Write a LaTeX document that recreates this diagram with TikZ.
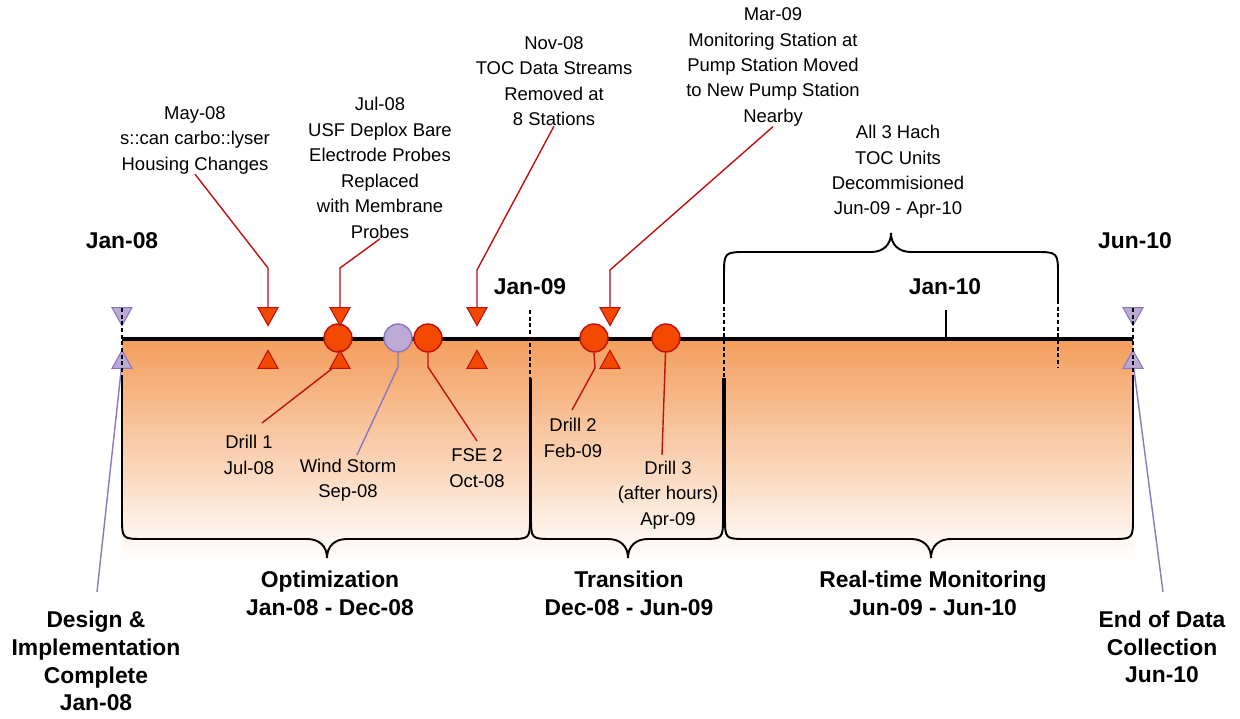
\documentclass[tikz,border=0pt]{standalone}
\usepackage{fontspec}
\setmainfont{Liberation Sans}
\usetikzlibrary{shapes.geometric}

\definecolor{evfill}{RGB}{243,72,0}
\definecolor{evline}{RGB}{192,16,16}
\definecolor{lavfill}{RGB}{186,170,212}
\definecolor{lavline}{RGB}{140,118,192}
\definecolor{shadetop}{RGB}{243,158,92}

\tikzset{
  lbl/.style={font=\fontsize{10.5}{14.5}\selectfont, align=center, inner sep=0pt},
  blbl/.style={font=\fontsize{13}{15.8}\selectfont\bfseries, align=center, inner sep=0pt},
  evdot/.style={circle, draw=evline, fill=evfill, line width=0.8pt, minimum size=0.56cm, inner sep=0pt},
  lavdot/.style={evdot, draw=lavline, fill=lavfill},
  tri/.style={isosceles triangle, isosceles triangle stretches, minimum width=0.40cm,
              minimum height=0.36cm, inner sep=0pt, line width=0.6pt, anchor=apex},
  evdown/.style={tri, rotate=-90, draw=evline, fill=evfill},
  evup/.style={tri, rotate=90, draw=evline, fill=evfill},
  lavdown/.style={tri, rotate=-90, draw=lavline, fill=lavfill},
  lavup/.style={tri, rotate=90, draw=lavline, fill=lavfill},
  evlink/.style={draw=evline, line width=0.8pt},
  lavlink/.style={draw=lavline, line width=0.8pt},
  brace/.style={draw=black, line width=1.1pt},
  guide/.style={draw=black, line width=0.9pt, dash pattern=on 2.2pt off 1.6pt},
}

% phase brace hanging below the timeline: left x, right x, tip x
\newcommand\bottombrace[3]{%
  \draw[brace] (#1,378) -- (#1,517) .. controls (#1,539) .. ({#1+22},539)
    -- ({#3-20},539) .. controls ({#3-8},539) and (#3,546) .. (#3,558)
    .. controls (#3,546) and ({#3+8},539) .. ({#3+20},539)
    -- ({#2-22},539) .. controls (#2,539) .. (#2,517) -- (#2,378);}

\begin{document}
\begin{tikzpicture}[x=0.02cm, y=-0.02cm]
\path[use as bounding box] (0,0) rectangle (1240,719);

% shaded band under the timeline
\shade[top color=shadetop, bottom color=white] (122,339) rectangle (1133,560);

% phase braces
\bottombrace{122}{530}{327}
\bottombrace{531}{723}{628}
\bottombrace{725}{1133}{931}

% decommissioning brace above the timeline
\draw[brace] (724,300) -- (724,276) .. controls (724,252) .. (748,252)
  -- (871,252) .. controls (883,252) and (891,245) .. (891,233)
  .. controls (891,245) and (899,252) .. (911,252)
  -- (1034,252) .. controls (1058,252) .. (1058,276) -- (1058,300);

% timeline
\draw[line width=2.3pt] (122,339) -- (1133,339);
\draw[line width=0.6pt] (946,310) -- (946,339);

% labels
\node[lbl] (may)  at (195,140) {May-08\\s::can carbo::lyser\\Housing Changes};
\node[lbl] (jul)  at (380,168) {Jul-08\\USF Deplox Bare\\Electrode Probes\\Replaced\\with Membrane\\Probes};
\node[lbl] (nov)  at (554,81)  {Nov-08\\TOC Data Streams\\Removed at\\8 Stations};
\node[lbl] (mar)  at (773,67)  {Mar-09\\Monitoring Station at\\Pump Station Moved\\to New Pump Station\\Nearby};
\node[lbl] (hach) at (898,172) {All 3 Hach\\TOC Units\\Decommisioned\\Jun-09 - Apr-10};
\node[lbl] (drill1) at (249,455) {Drill 1\\Jul-08};
\node[lbl] (wind)   at (348,480) {Wind Storm\\Sep-08};
\node[lbl] (fse)    at (477,468) {FSE 2\\Oct-08};
\node[lbl] (drill2) at (573,438) {Drill 2\\Feb-09};
\node[lbl] (drill3) at (668,495) {Drill 3\\(after hours)\\Apr-09};

\node[blbl] (opt)   at (330,593)  {Optimization\\Jan-08 - Dec-08};
\node[blbl] (trans) at (629,593)  {Transition\\Dec-08 - Jun-09};
\node[blbl] (rt)    at (933,593)  {Real-time Monitoring\\Jun-09 - Jun-10};
\node[blbl] (design) at (96,661)  {Design \&\\Implementation\\Complete\\Jan-08};
\node[blbl] (endd)  at (1162,647) {End of Data\\Collection\\Jun-10};
\node[blbl] (jan08) at (122,241) {Jan-08};
\node[blbl] (jun10) at (1135,241) {Jun-10};
\node[blbl] (jan09) at (530,287) {Jan-09};
\node[blbl] (jan10) at (945,287) {Jan-10};

% bend points and free ends of the connectors
\coordinate (k1) at (268,268);
\coordinate (k2) at (340,268);
\coordinate (k3) at (477,270);
\coordinate (k4) at (610,270);
\coordinate (d1e) at (262,423);
\coordinate (wsk) at (398,367);
\coordinate (wse) at (357,455);
\coordinate (fsk) at (428,367);
\coordinate (fse2) at (477,441);
\coordinate (d2k) at (595,368);
\coordinate (d2e) at (572,410);
\coordinate (d3e) at (662,455);
\coordinate (dle) at (97,592);
\coordinate (dre) at (1163,592);

% markers
\node[lavdown] (ldL) at (122,327) {};
\node[lavup]   (luL) at (122,349) {};
\node[lavdown] (ldR) at (1133,327) {};
\node[lavup]   (luR) at (1133,349) {};

\node[evdown] (tdA) at (268,327) {};
\node[evup]   (tuA) at (268,349) {};
\node[evdown] (tdC) at (477,327) {};
\node[evup]   (tuC) at (477,349) {};
\node[evdown] (tdD) at (610,327) {};
\node[evup]   (tuD) at (610,349) {};

\node[evdot]  (c1)  at (338,338) {};
\node[lavdot] (ws)  at (398,338) {};
\node[evdot]  (f2)  at (428,338) {};
\node[evdot]  (d2)  at (594,338) {};
\node[evdot]  (d3)  at (666,338) {};

\node[evdown] (tdB) at (340,327) {};
\node[evup]   (tuB) at (340,349) {};

% connectors, each ending on the border of its marker
\draw[evlink] (may.south) -- (k1) -- (tdA);
\draw[evlink] (jul.south) -- (k2) -- (tdB);
\draw[evlink] (nov.south) -- (k3) -- (tdC);
\draw[evlink] (mar.south) -- (k4) -- (tdD);
\draw[evlink] (tuB) -- (d1e);
\draw[lavlink] (ws.south) -- (wsk) -- (wse);
\draw[evlink] (f2.south) -- (fsk) -- (fse2);
\draw[evlink] (d2.south) -- (d2k) -- (d2e);
\draw[evlink] (d3) -- (d3e);
\draw[lavlink] (luL) -- (dle);
\draw[lavlink] (luR) -- (dre);

% dashed guides through the markers
\draw[guide] (122,308) -- (122,378);
\draw[guide] (530,310) -- (530,378);
\draw[guide] (724,300) -- (724,378);
\draw[guide] (1058,300) -- (1058,367);
\draw[guide] (1133,308) -- (1133,378);
\end{tikzpicture}
\end{document}
